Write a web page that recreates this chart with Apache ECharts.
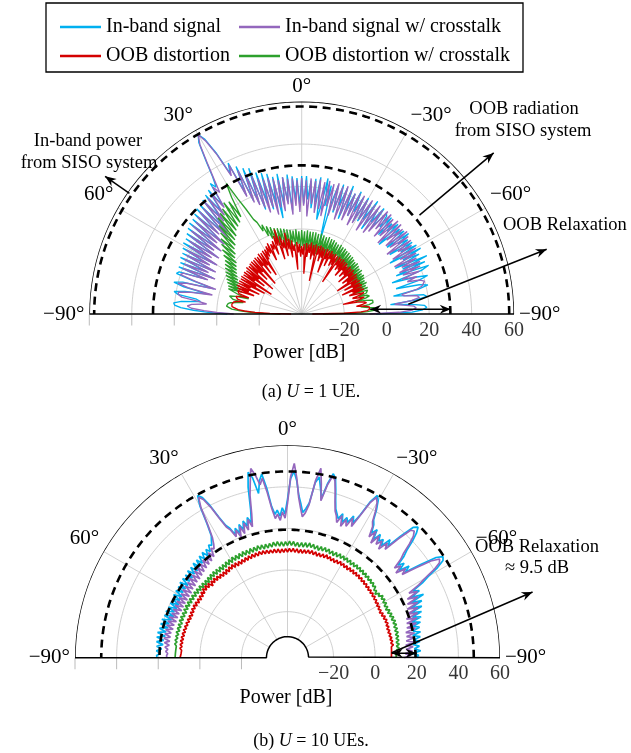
<!DOCTYPE html>
<html><head><meta charset="utf-8">
<script src="https://cdn.jsdelivr.net/npm/echarts@6/dist/echarts.min.js"></script>
<style>html,body{margin:0;padding:0;background:#fff}#c{width:631px;height:753px}</style>
</head><body><div id="c"></div>
<script>
// ---------------- DATA ----------------
const angles = [-90,-89,-88,-87,-86,-85,-84,-83,-82,-81,-80,-79,-78,-77,-76,-75,-74,-73,-72,-71,
-70,-69,-68,-67,-66,-65,-64,-63,-62,-61,-60,-59,-58,-57,-56,-55,-54,-53,-52,-51,
-50,-49,-48,-47,-46,-45,-44,-43,-42,-41,-40,-39,-38,-37,-36,-35,-34,-33,-32,-31,
-30,-29,-28,-27,-26,-25,-24,-23,-22,-21,-20,-19,-18,-17,-16,-15,-14,-13,-12,-11,
-10,-9,-8,-7,-6,-5,-4,-3,-2,-1,0,1,2,3,4,5,6,7,8,9,10,11,12,13,14,15,16,17,18,19,
20,21,22,23,24,25,26,27,28,29,30,31,32,33,34,35,36,37,38,39,40,41,42,43,44,45,46,47,48,49,
50,51,52,53,54,55,56,57,58,59,60,61,62,63,64,65,66,67,68,69,70,71,72,73,74,75,76,77,78,79,
80,81,82,83,84,85,86,87,88,89,90];

// (a) U = 1 UE
const topInband = [-5,12,17,19,18,12,2,14,19.5,18, 10,4,16,21,17,6,17,22,16,5,
20,24,8,23,12,25,9,22,14,24, 8,23,15,22,10,21,16,23,11,22,
17,21,9,22,16,20,12,22,15,21, 22,12,23,14,21,9,24,13,22,11,
23,10,22,14,24,11,22,13,25,8, 23,14,24,10,23,15,-5,22,12,25,
11,5,25,13,24,10,23,14,25,12, 25,11,24,14,25,9,26,13,25,12,
27,6,26,13,28,11,29,14,30,12, 33,16,34,18,36,22,39,34,46,54,
57.5,54,45,37,32,35,23,33,21,32, 19,31,14,30,12,30,15,29,10,28,
13,28,9,27,12,26,8,25,11,25, 7,24,10,23,6,23,9,22,5,22,
8,21,22,14,3,18,22,17,5,16, 21,19,10,8,17,20.5,20,17,11,4, -5];
const topInbandXT = [-8,6,12,14,13,8,4,12,16,15, 9,8,15,18,19,19.8,18,12,17,10,
19,11,20,10,21,12,20,9,21,13, 22,10,21,14,22,9,22,12,23,11,
22,13,23,9,23,12,22,10,23,13, 23,10,22,8,23,11,22,7,23,12,
22,9,23,7,23,11,22,8,23,10, 24,7,23,11,24,8,23,12,24,7,
23,10,24,8,23,12,24,6,23,11, 24,8,23,11,24,7,24,12,25,9,
24,11,25,8,26,12,26,10,27,13, 29,15,31,17,34,21,38,33,45,53,
57.5,53,44,36,29,33,22,31,19,30, 17,30,12,28,10,28,14,27,9,26,
12,26,8,25,11,24,7,23,10,22, 6,22,9,21,5,21,8,20,4,20,
7,19,20,12,2,16,20,15,3,14, 19,18.8,17,9,5,12,14,12,6,0, -8];
const topOOB = [-35,-20,-12,-9,-8,-7.7,-8,-10,-14,-11, -9,-10,-13,-20,-12,-9.5,-10,-15,-11,-9,
-9,-16,-8.5,-14,-9,-19,-8.5,-13,-9,-17, -8.5,-13,-9,-20,-8.7,-14,-8,-16,-9,-12,
-8,-17,-8.5,-13,-8,-15,-9,-12,-8,-16, -8,-13,-7.5,-14,-8,-12,-7.5,-22,-8,-13,
-7.5,-14,-8,-11,-7,-15,-7.5,-12,-7,-19, -7.5,-12,-7,-14,-6.5,-11,-7,-24,-6.5,-12,
-7,-14,-6,-11,-7,-13,-6.5,-21,-7,-12, -8,-13,-7,-11,-6,-19,-7,-10,-5,-13,
-4,-9,-1,-12,-4,-8,-2,-13,1.8,-6, -1,-10,-3,-7,-4,-12,-3,-8,-4,-9,
-5,-10,-5,-18,-5.5,-12,-5,-16,-6,-11, -5.5,-21,-6,-13,-5.8,-17,-6,-12,-6.5,-22,
-6,-14,-7,-18,-6.5,-13,-7,-23,-6.5,-15, -7,-20,-6.7,-13,-7,-18,-6.7,-13,-7.5,-16,
-8,-7.5,-9,-14,-10,-8,-7.5,-9,-13,-9, -7.5,-7,-6.8,-6.7,-7,-8,-10,-13,-18,-25, -35];
const topOOBXT = [-30,-15,-9,-6,-5,-6,-10,-12,-8,-6, -5.6,-6,-9,-14,-9,-7,-8,-12,-8,-7,
-7,-13,-6.5,-12,-7,-14,-6,-11,-6.5,-13, -6,-10,-5.5,-12,-6,-11,-5,-13,-5.5,-10,
-5,-12,-4.5,-10,-5,-13,-4.5,-9,-4,-11, -4,-10,-3.5,-12,-3.5,-9,-3,-11,-3,-8,
-2.5,-12,-3,-9,-2.5,-10,-2,-8,-2,-11, -1.5,-9,-2,-10,-1.5,-8,-1,-11,-1.5,-9,
-1,-10,-1,-8,-1,-9,-0.5,-10,-1,-8, -0.5,-9,-1,-7,0,-8,-0.5,-6,0,-9,
0.5,-5,1,-7,1.5,-4,2,-6,2.5,-3, 3.5,-2,4.5,0,6,3,8,10,16,22,
31,24,14,23,12,24,11,22,10,21, 8,20,7,17,5,14,4,12,2,10,
1,8,-1,6,-2,4,-3,3,-4,2, -5,1,-6,0,-7,-1,-8,-2,-9,-3,
-10,-3.5,-4,-9,-14,-8,-5,-4.5,-7,-12, -9,-6,-5,-4.5,-4.4,-5,-7,-11,-16,-22, -30];

// (b) U = 10 UEs
const botInband = [19,21,18,22,19,21.5,18.5,22,19,22.5, 19,23,19.5,23,20,24,20,25,21,26,
21,27,22,28,23,30,24,29,26,32, 36,42,46,47,44,36,28,31,26,30,
27,32,35,40,44,46.6,45,38,30,33, 28,31,29,32,28,33,30,34,36,41,
45,47,43,35,30,33,29,31,28,32, 29,31,33,37,42,47,49,44,36,41,
46,43,33,30,28,32,36,43,47.5,44, 34,27,30,26,29,27,31,40,47,44,
38,46,49,42,31,25,28,24,27,23, 26,22,25,22,26,28,33,40,45,47,
42,33,27,25,23,24,21,23,20,23, 20,22.5,19,22,18.5,22,18,21.5,18,21.5,
17.5,21,17.5,21,17,21,17,20.5,17,20.5, 16.5,20.5,16.5,20,16,20,16,20,16.5,20.5,
16,20.5,16.5,21,17,21,17,21,17.5,21.5, 17.5,21.5,18,21.3,18,21,18.5,21,19,20.8, 20.6];
const botInbandXT = [14,17,14.5,18,15,18.5,15,19,15.5,19.5, 16,20,16,21,17,22,17.5,23,18,24,
19,25,20,26,21,27,22,28,24,30, 34,40,44,45,41,33,26,29,24,28,
25,30,33,38,42,44,43,36,28,31, 26,30,27,31,26,32,28,33,35,40,
44,46,42,34,28,32,27,30,26,31, 27,30,32,36,41,46,48,43,35,43,
50.3,44,32,28,26,30,35,44,51.3,45, 32,25,28,24,27,25,30,38,45,42,
47,50.5,44,38,29,23,27,22,26,21, 25,20,24,21,25,27,32,39,44,46,
41,32,26,23,21,22,18,21,17,20, 16.5,20,16,19.5,15.5,19,15,19,14.5,18.5,
14.5,18.5,14,18,14,18,13.5,18,13.5,17.5, 13.5,17.5,13.5,17.5,13.5,17.5,13.5,17.5,14,17.5,
14,18,14,18,14.5,18,14.5,18,15,18, 15,18,15,17.5,15,17,15.5,16.5,15.5,16, 15.9];
const botOOB = [7.8,8.6,7.9,8.9,8.0,9.0,8.1,9.2,8.0,9.1, 7.9,9.0,7.8,8.9,7.6,8.8,7.5,8.9,7.7,9.0,
7.8,9.1,7.6,8.9,7.3,8.6,7.0,8.4,7.2,8.6, 7.4,8.8,7.6,9.0,7.9,9.3,8.1,9.4,8.2,9.6,
8.3,9.8,8.5,10.0,8.7,10.2,8.8,10.4,9.0,10.5, 9.1,10.6,9.0,10.7,9.1,10.6,8.9,10.5,9.0,10.6,
9.2,10.7,9.0,10.5,8.8,10.4,8.9,10.6,9.1,10.8, 9.0,10.6,8.8,10.4,8.7,10.5,8.9,10.7,9.0,10.6,
8.8,10.4,8.6,10.3,8.5,10.4,8.7,10.5,8.8,10.4, 8.6,10.3,8.5,10.2,8.4,10.3,8.6,10.4,8.7,10.3,
8.8,10.5,8.9,10.6,9.0,10.7,8.8,10.5,8.7,10.4, 8.6,10.3,8.4,10.1,8.2,9.9,8.0,9.8,7.9,9.9,
8.0,10.0,8.1,9.8,7.7,9.6,7.5,9.4,7.6,9.5, 7.8,9.8,8.0,10.0,8.1,9.9,7.6,10.2,8.4,10.5,
8.6,10.4,8.3,10.0,7.9,9.6,7.7,9.5,7.8,9.6, 8.0,9.7,8.1,9.6,7.9,9.4,7.7,9.3,7.8,9.4,
8.0,9.5,8.2,9.6,8.3,9.7,8.4,9.8,8.5,9.9, 8.6,10.0,8.7,9.9,8.8,9.8,8.9,9.7,9.1,9.6, 9.5];
const botOOBXT = [10.2,11.0,10.0,11.5,10.3,11.8,10.5,12.0,10.6,12.1, 10.8,12.3,10.9,12.5,11.0,12.6,11.0,12.7,11.2,12.8,
11.0,12.6,10.8,12.4,10.5,12.2,10.3,12.0,10.5,12.3, 10.8,12.5,11.0,12.6,10.6,11.8,9.8,11.5,10.5,12.4,
11.2,12.8,11.4,13.0,11.5,13.2,11.6,13.4,11.8,13.5, 11.9,13.6,12.0,13.7,11.9,13.6,11.8,13.7,12.0,13.8,
12.1,13.8,12.0,13.9,11.8,13.7,11.6,13.5,11.7,13.8, 12.0,13.9,11.9,13.7,11.5,13.6,11.7,13.8,12.0,14.0,
11.8,13.8,11.6,13.6,11.4,13.5,11.6,13.8,11.9,13.9, 11.8,13.7,11.5,13.6,11.6,13.9,11.8,13.8,11.6,13.5,
11.4,13.4,11.3,13.5,11.5,13.6,11.3,13.4,11.2,13.3, 11.0,13.2,11.1,13.3,11.0,13.1,10.8,13.0,10.9,13.1,
10.7,12.9,10.5,12.7,10.3,12.5,10.1,12.4,10.2,12.5, 10.3,12.6,10.4,12.5,10.2,12.3,10.0,12.2,10.1,12.4,
10.3,12.6,10.5,12.7,10.6,12.8,10.7,12.8,10.8,12.9, 10.9,12.9,11.0,13.0,11.0,12.9,10.9,12.8,11.0,12.9,
11.1,12.9,11.0,12.8,11.1,12.7,11.2,12.8,11.3,12.6, 11.4,12.6,11.5,12.5,11.6,12.4,11.7,12.3,11.8,12.2, 11.9];

const seriesNames = ['In-band signal', 'In-band signal w/ crosstalk', 'OOB distortion', 'OOB distortion w/ crosstalk'];
const refTop = [57.7, 30];      // SISO in-band and OOB levels, U = 1
const refBot = [47.4, 19.4];    // U = 10
const ringValues = [-20, 0, 20, 40];
const radialTicks = [-20, 0, 20, 40, 60];
const spokeAngles = [-60, -30, 0, 30, 60];
const minorSpokes = [-75, -45, -15, 15, 45, 75];
const angleLabels = {'-90': '−90°', '-60': '−60°', '-30': '−30°', '0': '0°', '30': '30°', '60': '60°', '90': '−90°'};

// ---------------- STYLE ----------------
const F = 'Liberation Serif';
const COL = {'In-band signal': '#00b0f0', 'In-band signal w/ crosstalk': '#9467bd', 'OOB distortion': '#d40000', 'OOB distortion w/ crosstalk': '#2ca02c'};
const RMAX = 60, RMIN_TOP = -40, HOLE = -32;

function arc(r, a0, a1) {
  const out = [], n = 180, st = (a1 - a0) / n;
  for (let k = 0; k <= n; k++) out.push([r, a0 + st * k]);
  return out;
}
function fmt(v) { return v < 0 ? '−' + Math.abs(v) : String(v); }
function deco(pi, data, color, width, z, type) {
  return {type: 'line', coordinateSystem: 'polar', polarIndex: pi, data: data, symbol: 'none', silent: true,
    lineStyle: {color: color, width: width, type: type || 'solid'}, z: z, animation: false};
}
function dataSeries(pi, name, vals, width) {
  return {type: 'line', name: name, coordinateSystem: 'polar', polarIndex: pi, symbol: 'none', showSymbol: false,
    data: angles.map((a, i) => [vals[i], a]), lineStyle: {color: COL[name], width: width},
    itemStyle: {color: COL[name]}, z: 2, animation: false};
}

const series = [];
const polarIdxSeries = [];
[0, 1].forEach(pi => {
  const rIn = pi === 0 ? RMIN_TOP : HOLE;
  ringValues.forEach(r => series.push(deco(pi, arc(r, -90, 90), '#c4c4c4', 0.8, 1)));
  spokeAngles.forEach(a => series.push(deco(pi, [[rIn, a], [RMAX, a]], '#c4c4c4', 0.8, 1)));
  if (pi === 0) minorSpokes.forEach(a => series.push(deco(pi, [[rIn, a], [-20, a]], '#c4c4c4', 0.8, 1)));
  const vals = pi === 0 ? [topInband, topInbandXT, topOOBXT, topOOB] : [botInband, botInbandXT, botOOBXT, botOOB];
  const order = [0, 1, 3, 2];
  const w = pi === 0 ? 1.35 : 1.7;
  polarIdxSeries.push(series.length);
  vals.forEach((v, k) => series.push(dataSeries(pi, seriesNames[order[k]], v, w)));
  const refs = pi === 0 ? refTop : refBot;
  refs.forEach(r => series.push(deco(pi, arc(r, -90, 90), '#000', 2.6, 4, [8, 5.5])));
  // frame
  let frame;
  if (pi === 0) frame = arc(RMAX, -90, 90).concat([[rIn, 90], [rIn, -90], [RMAX, -90]]);
  else frame = arc(RMAX, -90, 90).concat(arc(HOLE, 90, -90)).concat([[RMAX, -90]]);
  series.push(deco(pi, frame, '#000', 1.5, 5));
  // left ticks below baseline
  series.push({type: 'scatter', coordinateSystem: 'polar', polarIndex: pi, silent: true, animation: false,
    data: radialTicks.map(v => [v, 90]), symbol: 'rect', symbolSize: [1, 11], symbolOffset: [0, 6],
    itemStyle: {color: '#aaaaaa'}, z: 1});
  // right tick labels
  series.push({type: 'scatter', coordinateSystem: 'polar', polarIndex: pi, silent: true, animation: false,
    data: radialTicks.map(v => [v, -90]), symbol: 'circle', symbolSize: 1, itemStyle: {color: 'rgba(0,0,0,0)'},
    label: {show: true, position: 'bottom', distance: 6, formatter: p => fmt(p.value[0]),
      fontFamily: F, fontSize: 20, color: '#000'}, z: 6});
});

function angleAxis(pi) {
  return {polarIndex: pi, type: 'value', min: -90, max: 270, interval: 30, startAngle: 0, clockwise: false,
    axisLine: {show: false}, axisTick: {show: false}, splitLine: {show: false},
    axisLabel: {show: true, margin: 5, fontFamily: F, fontSize: 21, color: '#000',
      formatter: v => angleLabels[String(v)] || ''}};
}
function radiusAxis(pi) {
  return {polarIndex: pi, type: 'value', min: RMIN_TOP, max: RMAX, interval: 20,
    axisLine: {show: false}, axisTick: {show: false}, axisLabel: {show: false}, splitLine: {show: false}};
}

const legendBase = {orient: 'vertical', top: 12, itemWidth: 41, itemHeight: 2.5, itemGap: 9, icon: 'rect',
  selectedMode: false, textStyle: {fontFamily: F, fontSize: 20, color: '#000'}};

const option = {
  backgroundColor: '#fff',
  animation: false,
  polar: [
    {center: [301.7, 314], radius: [0, 212.4]},
    {center: [287.5, 657.7], radius: [4.4, 212.5]}
  ],
  angleAxis: [angleAxis(0), angleAxis(1)],
  radiusAxis: [radiusAxis(0), radiusAxis(1)],
  legend: [
    Object.assign({}, legendBase, {left: 55, data: [seriesNames[0], seriesNames[2]]}),
    Object.assign({}, legendBase, {left: 234, data: [seriesNames[1], seriesNames[3]]})
  ],
  series: series
};

const chart = echarts.init(document.getElementById('c'), null, {renderer: 'canvas'});
chart.setOption(option);

// ---------------- ANNOTATIONS ----------------
function P(pi, r, a) { return chart.convertToPixel({seriesIndex: polarIdxSeries[pi]}, [r, a]); }
function arrowHead(tip, from) {
  const dx = tip[0] - from[0], dy = tip[1] - from[1], L = Math.hypot(dx, dy);
  const ux = dx / L, uy = dy / L, nx = -uy, ny = ux, len = 11, w = 4.5;
  return {type: 'polygon', silent: true, z: 10, shape: {points: [
    tip, [tip[0] - len * ux + w * nx, tip[1] - len * uy + w * ny],
    [tip[0] - (len - 3.5) * ux, tip[1] - (len - 3.5) * uy],
    [tip[0] - len * ux - w * nx, tip[1] - len * uy - w * ny]]}, style: {fill: '#000'}};
}
function arrow(p1, p2, both) {
  const els = [{type: 'line', silent: true, z: 10, shape: {x1: p1[0], y1: p1[1], x2: p2[0], y2: p2[1]},
    style: {stroke: '#000', lineWidth: 1.5}}];
  els.push(arrowHead(p2, p1));
  if (both) els.push(arrowHead(p1, p2));
  return els;
}
function txt(x, y, s, size, align) {
  return {type: 'text', silent: true, z: 10, x: x, y: y,
    style: {text: s, font: size + 'px "' + F + '"', fill: '#000', align: align || 'center', verticalAlign: 'middle'}};
}
const annotations = [
  ...arrow(P(0, 59, 55), P(0, 73, 55)),
  ...arrow(P(0, 32.4, -50), P(0, 78, -50)),
  ...arrow(P(0, 10.4, -84.8), P(0, 79.3, -75.2)),
  ...arrow(P(0, -7.7, -86.1), P(0, 30.2, -88.2), true),
  ...arrow(P(1, 8, -87.3), P(1, 79.8, -75)),
  ...arrow(P(1, 8, -87.6), P(1, 20, -88.0), true),
  txt(88, 141, 'In-band power', 18.5),
  txt(89, 163, 'from SISO system', 18.5),
  txt(524, 109, 'OOB radiation', 18.5),
  txt(523, 131, 'from SISO system', 18.5),
  txt(503, 225, 'OOB Relaxation', 18.5, 'left'),
  txt(537, 547, 'OOB Relaxation', 18.5),
  txt(537, 568, '≈ 9.5 dB', 18.5),
  txt(299, 353, 'Power [dB]', 20),
  txt(286, 698, 'Power [dB]', 20),
  {type: 'text', silent: true, z: 10, x: 311, y: 392, style: {text: '(a) {i|U} = 1 UE.', font: '18px "' + F + '"', fill: '#000',
    align: 'center', verticalAlign: 'middle', rich: {i: {fontStyle: 'italic', fontFamily: F, fontSize: 18}}}},
  {type: 'text', silent: true, z: 10, x: 311, y: 741, style: {text: '(b) {i|U} = 10 UEs.', font: '18px "' + F + '"', fill: '#000',
    align: 'center', verticalAlign: 'middle', rich: {i: {fontStyle: 'italic', fontFamily: F, fontSize: 18}}}},
  {type: 'rect', silent: true, z: 10, shape: {x: 46, y: 3, width: 477, height: 69}, style: {fill: 'none', stroke: '#000', lineWidth: 1.3}}
];
chart.setOption({graphic: annotations});
</script></body></html>
